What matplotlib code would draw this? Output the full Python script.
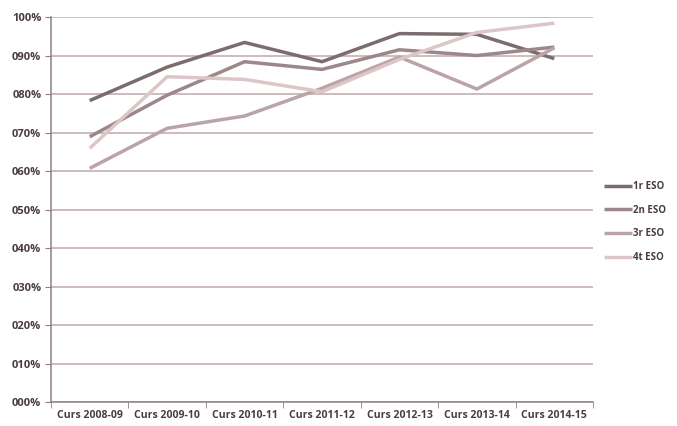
import matplotlib.pyplot as plt
from matplotlib.ticker import FixedLocator, FuncFormatter

cursos = ["Curs 2008-09", "Curs 2009-10", "Curs 2010-11", "Curs 2011-12",
          "Curs 2012-13", "Curs 2013-14", "Curs 2014-15"]
eso1 = [0.783, 0.870, 0.934, 0.884, 0.957, 0.955, 0.892]
eso2 = [0.689, 0.797, 0.884, 0.864, 0.915, 0.900, 0.922]
eso3 = [0.607, 0.711, 0.743, 0.815, 0.896, 0.813, 0.920]
eso4 = [0.659, 0.845, 0.838, 0.806, 0.890, 0.960, 0.984]
series = ["1r ESO", "2n ESO", "3r ESO", "4t ESO"]
colors = ["#7d6c6e", "#9d878a", "#bba4a7", "#dcc6c8"]

plt.rcParams["font.family"] = ["Open Sans", "DejaVu Sans"]

fig = plt.figure(figsize=(6.77, 4.26), dpi=100)
ax = fig.add_axes([0.0753, 0.0563, 0.8007, 0.9037])

x = range(len(cursos))
for vals, name, c in zip([eso1, eso2, eso3, eso4], series, colors):
    ax.plot(x, vals, color=c, lw=2.5, label=name, solid_capstyle="butt")

ax.set_xlim(-0.5, len(cursos) - 0.5)
ax.set_ylim(0, 1)
ax.set_yticks([i / 10 for i in range(11)])
ax.yaxis.set_major_formatter(FuncFormatter(lambda v, p: "%03d%%" % round(v * 100)))
ax.grid(axis="y", color="#c0a9ac", lw=1.1)
ax.set_axisbelow(True)

ax.set_xticks(list(x))
ax.set_xticklabels(cursos)
ax.xaxis.set_minor_locator(FixedLocator([i - 0.5 for i in range(len(cursos) + 1)]))
ax.tick_params(axis="x", which="major", length=0, pad=6, labelsize=7.6)
ax.tick_params(axis="x", which="minor", length=4, color="#8f7f81", direction="out")
ax.tick_params(axis="y", length=4, color="#8f7f81", pad=3, labelsize=8)
ax.tick_params(labelcolor="#4a3c3e")
for lab in ax.get_xticklabels() + ax.get_yticklabels():
    lab.set_fontweight("bold")

for s in ["top", "right"]:
    ax.spines[s].set_visible(False)
for s in ["left", "bottom"]:
    ax.spines[s].set_color("#8f7f81")
    ax.spines[s].set_linewidth(1.1)

leg = ax.legend(loc="upper left", bbox_to_anchor=(1.01, 0.589), frameon=False,
                fontsize=7, handlelength=2.8, handletextpad=0.1, labelspacing=1.3,
                borderaxespad=0.2)
for t in leg.get_texts():
    t.set_color("#4a3c3e")
    t.set_fontweight("bold")

fig.savefig("out.png", dpi=100)
